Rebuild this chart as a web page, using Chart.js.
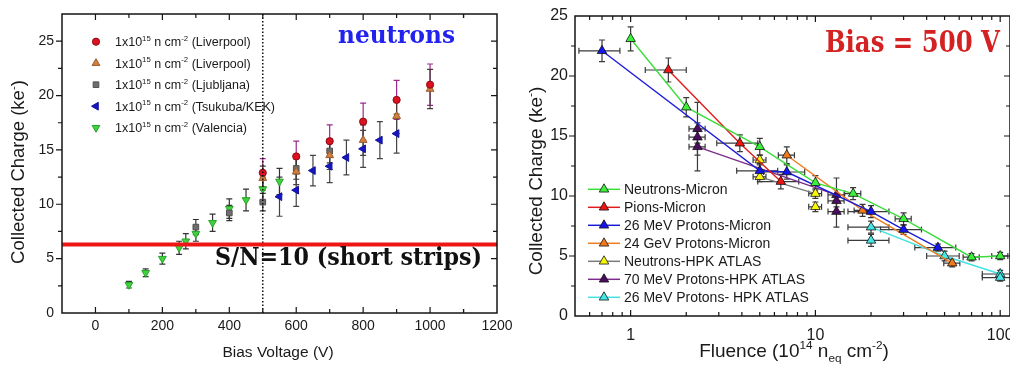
<!DOCTYPE html>
<html>
<head>
<meta charset="utf-8">
<script src="https://cdn.jsdelivr.net/npm/chart.js@4.4.1/dist/chart.umd.min.js"></script>
<style>
  html, body { margin: 0; padding: 0; background: #fff; overflow: hidden; width: 1010px; height: 365px; }
  #left { position: absolute; left: 0; top: 0; }
  #right { position: absolute; left: 505px; top: 0; }
</style>
</head>
<body>
<canvas id="left" width="512" height="365"></canvas>
<canvas id="right" width="540" height="365"></canvas>
<script>
// ---------- left panel: collected charge vs bias voltage (1e15 n/cm2) ----------
const leftVoltTicks = [0, 200, 400, 600, 800, 1000, 1200];
const leftChargeTicks = [0, 5, 10, 15, 20, 25];
const leftSites = ['Liverpool', 'Liverpool', 'Ljubljana', 'Tsukuba/KEK', 'Valencia'];

const livCircV = [500, 600, 700, 800, 900, 1000];
const livCircQ = [12.9, 14.4, 15.8, 17.6, 19.6, 21.0];
const livCircE = [1.3, 1.4, 1.5, 1.7, 1.8, 1.9];

const livTriV = [500, 600, 700, 800, 900, 1000];
const livTriQ = [12.4, 13.0, 14.5, 15.9, 18.1, 20.6];
const livTriE = [1.1, 1.2, 1.3, 1.4, 1.6, 1.8];

const ljubV = [300, 400, 500, 600, 700];
const ljubQ = [7.9, 9.2, 10.2, 13.3, 14.9];
const ljubE = [0.7, 0.7, 0.8, 1.0, 1.1];

const tsukV = [550, 600, 650, 700, 750, 800, 850, 900];
const tsukQ = [10.7, 11.3, 13.1, 13.5, 14.3, 15.1, 15.9, 16.5];
const tsukE = [1.8, 1.5, 1.4, 1.5, 1.6, 1.7, 1.7, 1.8];

const valV = [100, 150, 200, 250, 270, 300, 350, 400, 450, 500, 550];
const valQ = [2.6, 3.7, 5.0, 6.0, 6.6, 7.3, 8.3, 9.6, 10.4, 11.4, 12.1];
const valE = [0.3, 0.35, 0.5, 0.6, 0.7, 0.7, 0.8, 0.9, 1.0, 1.1, 1.2];

const snLimit = 6.3;     // S/N = 10 line
const refBias = 500;     // dotted line

// ---------- right panel: collected charge vs fluence at 500 V ----------
const rightFluenceTicks = [1, 10, 100];
const rightChargeTicks = [0, 5, 10, 15, 20, 25];
const rightNames = ['Neutrons-Micron', 'Pions-Micron', '26 MeV Protons-Micron', '24 GeV Protons-Micron',
  'Neutrons-HPK ATLAS', '70 MeV Protons-HPK ATLAS', '26 MeV Protons- HPK ATLAS'];

const nMicF = [1, 2, 5, 10, 16, 30, 70, 100];
const nMicQ = [23.1, 17.4, 14.1, 11.1, 10.2, 8.1, 4.9, 5.0];
const nMicE = [1.0, 0.8, 0.7, 0.6, 0.5, 0.5, 0.3, 0.3];
const nMicX = [0, 0, 0, 0, 0.1, 0.1, 0.1, 0.1];

const piF = [1.6, 3.9, 6.5];
const piQ = [20.5, 14.4, 11.2];
const piE = [1.0, 0.7, 0.6];
const piX = [0.25, 0.25, 0.25];

const p26F = [0.7, 5, 7, 20, 30, 46];
const p26Q = [22.1, 12.1, 12.0, 8.7, 7.2, 5.7];
const p26E = [0.9, 0.6, 0.6, 0.5, 0.4, 0.3];
const p26X = [0.25, 0.25, 0.25, 0.25, 0.25, 0.25];

const p24F = [7, 18, 55];
const p24Q = [13.4, 8.8, 4.4];
const p24E = [0.7, 0.5, 0.3];
const p24X = [0.1, 0.1, 0.1];

const nHpkF = [5, 5, 10, 10];
const nHpkQ = [13.0, 11.6, 10.2, 9.1];
const nHpkE = [0.4, 0.4, 0.4, 0.4];
const nHpkX = [0.08, 0.08, 0.08, 0.08];

const p70F = [2.3, 2.3, 2.3, 13, 13, 13];
const p70Q = [15.6, 14.9, 14.1, 10.1, 9.6, 8.7];
const p70E = [2.2, 0.5, 2.0, 1.4, 0.5, 1.3];
const p70X = [0.1, 0.1, 0.1, 0.1, 0.1, 0.1];

const p26hF = [20, 20, 50, 100, 100];
const p26hQ = [6.3, 7.4, 5.0, 3.5, 3.2];
const p26hE = [0.5, 0.5, 0.4, 0.3, 0.3];
const p26hX = [0.25, 0.25, 0.2, 0.2, 0.2];

// ---------- helpers ----------
const SANS = '"Liberation Sans", Arial, sans-serif';
const SERIF = '"DejaVu Serif", serif';
const toPts = (xs, ys) => xs.map((x, i) => ({ x: x, y: ys[i] }));

function drawRich(ctx, parts, x, y, size, align) {
  const small = size * 0.62;
  let w = 0;
  parts.forEach(([t, k]) => { ctx.font = (k ? small : size) + 'px ' + SANS; w += ctx.measureText(t).width; });
  let cx = align === 'center' ? x - w / 2 : x;
  ctx.textAlign = 'left';
  ctx.textBaseline = 'alphabetic';
  parts.forEach(([t, k]) => {
    ctx.font = (k ? small : size) + 'px ' + SANS;
    const dy = k === 'sup' ? -size * 0.42 : (k === 'sub' ? size * 0.28 : 0);
    ctx.fillText(t, cx, y + dy);
    cx += ctx.measureText(t).width;
  });
}

function drawVertical(ctx, parts, cx, cy, size) {
  ctx.save();
  ctx.translate(cx, cy);
  ctx.rotate(-Math.PI / 2);
  drawRich(ctx, parts, 0, size * 0.35, size, 'center');
  ctx.restore();
}

function drawFit(ctx, text, left, base, width, font, color, sy) {
  ctx.save();
  ctx.font = font;
  const w = ctx.measureText(text).width;
  ctx.translate(left, base);
  ctx.scale(width / w, sy);
  ctx.fillStyle = color;
  ctx.textAlign = 'left';
  ctx.textBaseline = 'alphabetic';
  ctx.fillText(text, 0, 0);
  ctx.restore();
}

function marker(ctx, ds, x, y) {
  ctx.save();
  ctx.fillStyle = ds.pointBackgroundColor;
  ctx.strokeStyle = ds.pointBorderColor;
  ctx.lineWidth = ds.pointBorderWidth;
  Chart.helpers.drawPoint(ctx, {
    pointStyle: ds.pointStyle, rotation: ds.rotation || 0,
    radius: ds.pointRadius, borderWidth: ds.pointBorderWidth
  }, x, y);
  ctx.restore();
}

// frame with inward ticks (x, right y) and outward ticks on the left y axis
const frame = {
  id: 'frame',
  afterDraw(chart, args, o) {
    const { ctx, chartArea: a } = chart;
    const xs = chart.scales.x, ys = chart.scales.y;
    ctx.save();
    ctx.strokeStyle = '#151515';
    ctx.lineWidth = 1.5;
    ctx.strokeRect(a.left, a.top, a.right - a.left, a.bottom - a.top);
    ctx.lineWidth = 1.2;
    const tickX = (v, len) => {
      const p = xs.getPixelForValue(v);
      if (p < a.left + 1 || p > a.right - 1) return;
      ctx.beginPath();
      ctx.moveTo(p, a.bottom); ctx.lineTo(p, a.bottom - len);
      ctx.moveTo(p, a.top); ctx.lineTo(p, a.top + len);
      ctx.stroke();
    };
    const tickY = (v, len) => {
      const p = ys.getPixelForValue(v);
      if (p < a.top + 1 || p > a.bottom - 1) return;
      ctx.beginPath();
      ctx.moveTo(a.left, p); ctx.lineTo(a.left - len, p);
      ctx.moveTo(a.right, p); ctx.lineTo(a.right - len, p);
      ctx.stroke();
    };
    o.xMajor.forEach(v => tickX(v, 6));
    o.xMinor.forEach(v => tickX(v, 4));
    o.yMajor.forEach(v => tickY(v, 6));
    o.yMinor.forEach(v => tickY(v, 4));
    ctx.restore();
  }
};

// y (and optional x) error bars with caps, drawn under the markers
const errorBars = {
  id: 'errorBars',
  beforeDatasetsDraw(chart) {
    const { ctx } = chart;
    const xs = chart.scales.x, ys = chart.scales.y;
    ctx.save();
    ctx.beginPath();
    ctx.rect(chart.chartArea.left, chart.chartArea.top, chart.chartArea.width, chart.chartArea.height);
    ctx.clip();
    chart.data.datasets.forEach(ds => {
      if (!ds.errY) return;
      ctx.strokeStyle = ds.errColor;
      ctx.lineWidth = 1.2;
      ds.data.forEach((p, j) => {
        const px = xs.getPixelForValue(p.x);
        const e = ds.errY[j];
        if (e) {
          const t = ys.getPixelForValue(p.y + e), b = ys.getPixelForValue(p.y - e);
          ctx.beginPath();
          ctx.moveTo(px, t); ctx.lineTo(px, b);
          ctx.moveTo(px - 3, t); ctx.lineTo(px + 3, t);
          ctx.moveTo(px - 3, b); ctx.lineTo(px + 3, b);
          ctx.stroke();
        }
        const ex = ds.errX ? ds.errX[j] : 0;
        if (ex) {
          const py = ys.getPixelForValue(p.y);
          const l = xs.getPixelForValue(p.x * (1 - ex)), r = xs.getPixelForValue(p.x * (1 + ex));
          ctx.beginPath();
          ctx.moveTo(l, py); ctx.lineTo(r, py);
          ctx.moveTo(l, py - 3); ctx.lineTo(l, py + 3);
          ctx.moveTo(r, py - 3); ctx.lineTo(r, py + 3);
          ctx.stroke();
        }
      });
    });
    ctx.restore();
  }
};

const tickFont = size => ({ family: SANS, size: size });

// ---------- left chart ----------
const leftDecor = {
  id: 'leftDecor',
  afterDatasetsDraw(chart) {
    const { ctx, chartArea: a } = chart;
    const xs = chart.scales.x, ys = chart.scales.y;
    ctx.save();
    // dotted line at the reference bias
    const bx = xs.getPixelForValue(refBias);
    ctx.strokeStyle = '#111';
    ctx.lineWidth = 1.5;
    ctx.setLineDash([1.5, 2]);
    ctx.beginPath(); ctx.moveTo(bx, a.top); ctx.lineTo(bx, a.bottom); ctx.stroke();
    ctx.setLineDash([]);
    // S/N = 10 line
    const sy = ys.getPixelForValue(snLimit);
    ctx.strokeStyle = '#ee1515';
    ctx.lineWidth = 4;
    ctx.beginPath(); ctx.moveTo(a.left, sy); ctx.lineTo(a.right, sy); ctx.stroke();
    ctx.restore();
  },
  afterDraw(chart) {
    const { ctx, chartArea: a } = chart;
    ctx.save();
    ctx.fillStyle = '#1a1a1a';
    drawVertical(ctx, [['Collected Charge (ke'], ['-', 'sup'], [')']], 18, 172, 18.5);
    drawRich(ctx, [['Bias Voltage (V)']], 278, 357, 15.5, 'center');
    drawFit(ctx, 'neutrons', 338, 43, 117, 'bold 23px ' + SERIF, '#2222ee', 1.05);
    drawFit(ctx, 'S/N=10 (short strips)', 215, 265, 267, 'bold 22px ' + SERIF, '#111', 1.1);
    // legend
    chart.data.datasets.forEach((ds, i) => {
      const y = a.top + 27.7 + i * 21.5;
      marker(ctx, ds, a.left + 34, y);
      ctx.fillStyle = '#1a1a1a';
      drawRich(ctx, [['1x10'], ['15', 'sup'], [' n cm'], ['-2', 'sup'], [' (' + leftSites[i] + ')']], a.left + 53, y + 4.5, 12.5, 'left');
    });
    ctx.restore();
  }
};

const leftSet = (label, v, q, e, style) => Object.assign({
  label: label, data: toPts(v, q), errY: e, showLine: false, pointBorderWidth: 1
}, style);

new Chart(document.getElementById('left'), {
  type: 'scatter',
  plugins: [errorBars, leftDecor, frame],
  data: {
    datasets: [
      leftSet(leftSites[0], livCircV, livCircQ, livCircE, {
        pointStyle: 'circle', pointRadius: 3.6, pointBackgroundColor: '#dc1020', pointBorderColor: '#8c0c14', errColor: '#9a2a8c' }),
      leftSet(leftSites[1], livTriV, livTriQ, livTriE, {
        pointStyle: 'triangle', pointRadius: 4.5, pointBackgroundColor: '#d2803e', pointBorderColor: '#9c5a2a', errColor: '#4a3a3a' }),
      leftSet(leftSites[2], ljubV, ljubQ, ljubE, {
        pointStyle: 'rect', pointRadius: 4, pointBackgroundColor: '#6e6e6e', pointBorderColor: '#505050', errColor: '#333' }),
      leftSet(leftSites[3], tsukV, tsukQ, tsukE, {
        pointStyle: 'triangle', rotation: -90, pointRadius: 4.5, pointBackgroundColor: '#1515c8', pointBorderColor: '#10109a', errColor: '#444' }),
      leftSet(leftSites[4], valV, valQ, valE, {
        pointStyle: 'triangle', rotation: 180, pointRadius: 4.5, pointBackgroundColor: '#40d040', pointBorderColor: '#26a626', errColor: '#333' })
    ]
  },
  options: {
    responsive: false,
    animation: false,
    events: [],
    layout: { padding: { left: 0, top: 14, right: 15, bottom: 0 } },
    plugins: {
      legend: { display: false },
      tooltip: { enabled: false },
      frame: {
        xMajor: leftVoltTicks,
        xMinor: leftVoltTicks.map(v => v - 100).concat([1100]),
        yMajor: leftChargeTicks,
        yMinor: leftChargeTicks.map(v => v + 2.5)
      }
    },
    scales: {
      x: {
        type: 'linear', min: -100, max: 1200,
        afterBuildTicks: s => { s.ticks = leftVoltTicks.map(v => ({ value: v })); },
        afterFit: s => { s.height = 52; s.paddingLeft = 0; s.paddingRight = 0; },
        grid: { display: false, drawTicks: false },
        border: { display: false },
        ticks: { padding: 5, color: '#1a1a1a', font: tickFont(14), maxRotation: 0, autoSkip: false, callback: v => String(v) }
      },
      y: {
        type: 'linear', min: 0, max: 27.5,
        afterBuildTicks: s => { s.ticks = leftChargeTicks.map(v => ({ value: v })); },
        afterFit: s => { s.width = 62; s.paddingTop = 0; s.paddingBottom = 0; },
        grid: { display: false, drawTicks: false },
        border: { display: false },
        ticks: { padding: 8, color: '#1a1a1a', font: tickFont(14), autoSkip: false, callback: v => String(v) }
      }
    }
  }
});

// ---------- right chart ----------
const rightDecor = {
  id: 'rightDecor',
  afterDraw(chart) {
    const { ctx, chartArea: a } = chart;
    ctx.save();
    ctx.fillStyle = '#1a1a1a';
    drawVertical(ctx, [['Collected Charge (ke'], ['-', 'sup'], [')']], 30, 181, 19);
    drawRich(ctx, [['Fluence (10'], ['14', 'sup'], [' n'], ['eq', 'sub'], [' cm'], ['-2', 'sup'], [')']], 289, 357, 19, 'center');
    drawFit(ctx, 'Bias = 500 V', 320, 52, 175, 'bold 26px ' + SERIF, '#d42222', 1.15);
    // legend
    chart.data.datasets.forEach((ds, i) => {
      const y = a.top + 173.3 + i * 18;
      ctx.strokeStyle = ds.borderColor;
      ctx.lineWidth = 1.5;
      ctx.beginPath(); ctx.moveTo(a.left + 13, y); ctx.lineTo(a.left + 45, y); ctx.stroke();
      marker(ctx, ds, a.left + 29, y);
      ctx.fillStyle = '#1a1a1a';
      drawRich(ctx, [[rightNames[i]]], a.left + 49, y + 5, 14, 'left');
    });
    ctx.restore();
  }
};

const rightSet = (i, f, q, e, x, line, fill) => ({
  label: rightNames[i], data: toPts(f, q), errY: e, errX: x, errColor: '#3a3a3a',
  showLine: true, borderColor: line, borderWidth: 1.4, tension: 0,
  pointStyle: 'triangle', pointRadius: 5.5, pointBackgroundColor: fill,
  pointBorderColor: '#111', pointBorderWidth: 0.8,
  segment: { borderColor: c => (c.p0.parsed.x === c.p1.parsed.x ? 'rgba(0,0,0,0)' : undefined) }
});

const logMinor = [];
[0.1, 1, 10].forEach(d => { for (let m = 2; m <= 9; m++) logMinor.push(m * d); });

new Chart(document.getElementById('right'), {
  type: 'scatter',
  plugins: [errorBars, rightDecor, frame],
  data: {
    datasets: [
      rightSet(0, nMicF, nMicQ, nMicE, nMicX, '#3ade3a', '#3cf03c'),
      rightSet(1, piF, piQ, piE, piX, '#e21c1c', '#f01414'),
      rightSet(2, p26F, p26Q, p26E, p26X, '#1c1cd8', '#1414f0'),
      rightSet(3, p24F, p24Q, p24E, p24X, '#f07c20', '#f27a18'),
      rightSet(4, nHpkF, nHpkQ, nHpkE, nHpkX, '#7a7a7a', '#f8f806'),
      rightSet(5, p70F, p70Q, p70E, p70X, '#7c2c8c', '#4c0c60'),
      rightSet(6, p26hF, p26hQ, p26hE, p26hX, '#44e2e2', '#46e6e6')
    ]
  },
  options: {
    responsive: false,
    animation: false,
    events: [],
    layout: { padding: { left: 0, top: 16, right: 35, bottom: 0 } },
    plugins: {
      legend: { display: false },
      tooltip: { enabled: false },
      frame: {
        xMajor: rightFluenceTicks,
        xMinor: logMinor,
        yMajor: rightChargeTicks,
        yMinor: rightChargeTicks.map(v => v + 2.5)
      }
    },
    scales: {
      x: {
        type: 'logarithmic', min: 0.5, max: 113,
        afterBuildTicks: s => { s.ticks = rightFluenceTicks.map(v => ({ value: v })); },
        afterFit: s => { s.height = 49; s.paddingLeft = 0; s.paddingRight = 0; },
        grid: { display: false, drawTicks: false },
        border: { display: false },
        ticks: { padding: 10, color: '#1a1a1a', font: tickFont(16), maxRotation: 0, autoSkip: false, callback: v => String(v) }
      },
      y: {
        type: 'linear', min: 0, max: 25,
        afterBuildTicks: s => { s.ticks = rightChargeTicks.map(v => ({ value: v })); },
        afterFit: s => { s.width = 70; s.paddingTop = 0; s.paddingBottom = 0; },
        grid: { display: false, drawTicks: false },
        border: { display: false },
        ticks: { padding: 7, color: '#1a1a1a', font: tickFont(16), autoSkip: false, callback: v => String(v) }
      }
    }
  }
});
</script>
</body>
</html>
